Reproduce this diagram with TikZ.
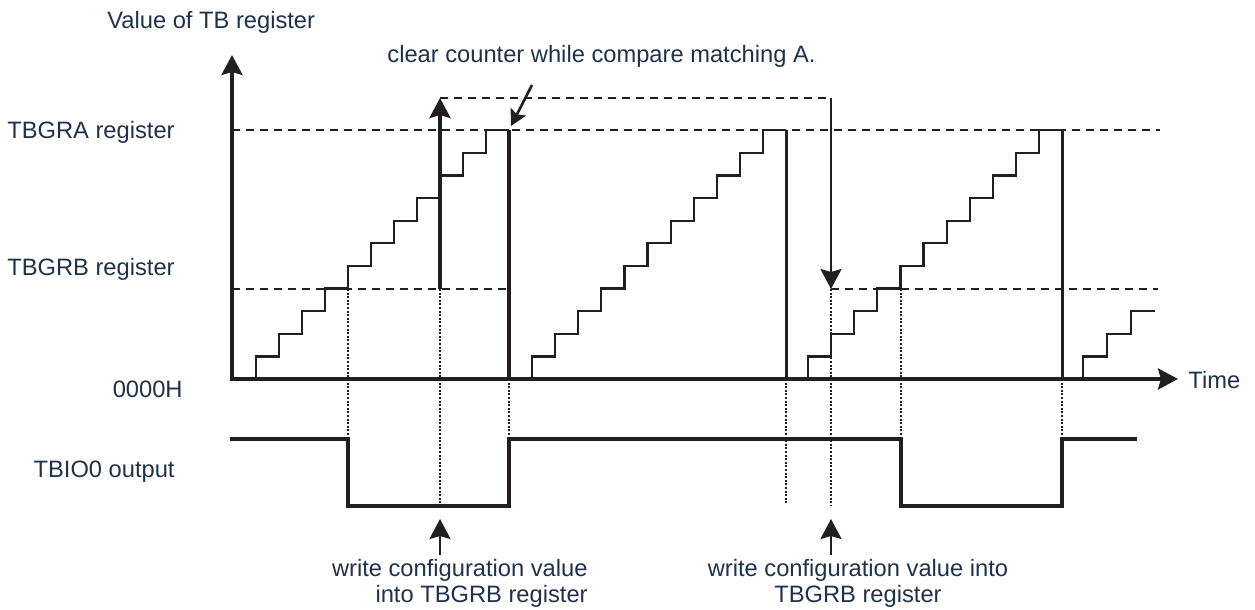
\documentclass[tikz,border=0pt]{standalone}
\usepackage{fontspec}
\setmainfont{Liberation Sans}
\usetikzlibrary{arrows.meta}
\definecolor{ink}{RGB}{35,31,32}
\definecolor{txt}{RGB}{30,50,75}
\begin{document}
\begin{tikzpicture}[x=0.5pt,y=-0.5pt,
  lbl/.style={font=\fontsize{11.85}{13}\selectfont, text=txt, inner sep=0pt},
  axisline/.style={draw=ink, line width=1.7pt},
  thickline/.style={draw=ink, line width=1.6pt},
  medline/.style={draw=ink, line width=1.3pt},
  thinline/.style={draw=ink, line width=1.1pt},
  dashln/.style={draw=ink, line width=1.1pt, dash pattern=on 4.2pt off 2.8pt},
  dotln/.style={draw=ink, line width=1pt, dash pattern=on 1pt off 0.8pt},
  bigtip/.tip={Stealth[length=10pt,width=10.5pt,inset=1.5pt]},
  smalltip/.tip={Stealth[length=8pt,width=8.5pt,inset=1.5pt]},
]
\useasboundingbox (0,0) rectangle (1255,610);

% key coordinates
\coordinate (ytip) at (232,55);
\coordinate (orig) at (232,379);
\coordinate (xtip) at (1178,379);

% dashed reference levels
\draw[dashln] (232,130.4) -- (1160,130.4);
\draw[dashln] (232,289) -- (509,289);
\draw[dashln] (831,289) -- (1158,289);

% staircases
\draw[thinline] (256,379) \foreach \i in {0,...,10} { -- ++(0,-22.6) -- ++(23,0) } coordinate (top1);
\draw[thinline] (532,379) \foreach \i in {0,...,10} { -- ++(0,-22.6) -- ++(23.1,0) } coordinate (top2);
\draw[thinline] (808,379) \foreach \i in {0,...,10} { -- ++(0,-22.6) -- ++(23.1,0) } coordinate (top3);
\draw[thinline] (1083,379) \foreach \i in {0,...,2} { -- ++(0,-22.6) -- ++(24,0) } coordinate (top4);

% counter clears
\draw[thickline] (top1) -- (top1 |- orig);
\draw[thickline] (top2) -- (top2 |- orig);
\draw[thickline] (top3) -- (top3 |- orig);

% axes
\draw[axisline, bigtip-bigtip] (ytip) -- (orig) -- (xtip);

% TBGRB change arrows
\coordinate (upfoot) at (440,289);
\coordinate (uptip) at (440,98);
\coordinate (dncorner) at (831,98);
\coordinate (dntip) at (831,289);
\draw[thickline, -bigtip] (upfoot) -- (uptip);
\draw[dashln] (uptip) -- (dncorner);
\draw[medline, -bigtip] (dncorner) -- (dntip);

% output signal
\draw[axisline] (230,439) -- (348,439) -- (348,506) -- (509,506) -- (509,439)
  -- (901,439) -- (901,506) -- (1062,506) -- (1062,439) -- (1137,439);

% dotted guides
\draw[dotln] (348,289) -- (348,439);
\draw[dotln] (440,289) -- (440,506);
\draw[dotln] (509,379) -- (509,439);
\draw[dotln] (786,379) -- (786,504);
\draw[dotln] (831,289) -- (831,506);
\draw[dotln] (901,289) -- (901,439);
\draw[dotln] (1062,379) -- (1062,439);

% labels
\node[lbl, anchor=base west] (vlabel) at (107,29) {Value of TB register};
\node[lbl, anchor=base east] (ralabel) at (175,139) {TBGRA register};
\node[lbl, anchor=base east] (rblabel) at (175,276) {TBGRB register};
\node[lbl, anchor=base east] (zlabel) at (183,397) {0000H};
\node[lbl, anchor=base east] (olabel) at (175,477) {TBIO0 output};
\node[lbl, anchor=base west] (tlabel) at (1188,388) {Time};
\node[lbl, anchor=base west] (clabel) at (387,63) {clear counter while compare matching A.};
\node[lbl, anchor=base east] (w1a) at (588,576) {write configuration value};
\node[lbl, anchor=base east] (w1b) at (588,602) {into TBGRB register};
\node[lbl, anchor=base] (w2a) at (858,576) {write configuration value into};
\node[lbl, anchor=base] (w2b) at (858,602) {TBGRB register};

% pointer arrows
\coordinate (ctail) at (532,85);
\coordinate (ctip) at (511,126);
\draw[medline, -smalltip] (ctail) -- (ctip);
\coordinate (w1tail) at (440,555);
\coordinate (w1tip) at (440,519);
\draw[medline, -bigtip] (w1tail) -- (w1tip);
\coordinate (w2tail) at (831,555);
\coordinate (w2tip) at (831,519);
\draw[medline, -bigtip] (w2tail) -- (w2tip);
\end{tikzpicture}
\end{document}
